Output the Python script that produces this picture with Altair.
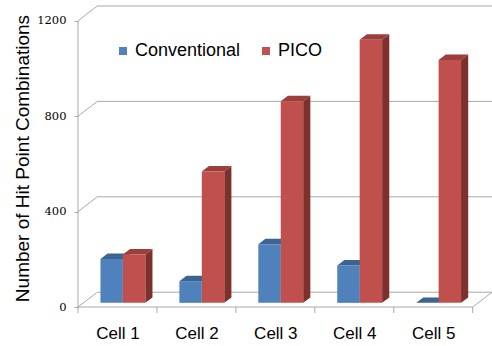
import altair as alt
import pandas as pd

# ---- data -------------------------------------------------------------
categories = ["Cell 1", "Cell 2", "Cell 3", "Cell 4", "Cell 5"]
series_names = ["Conventional", "PICO"]
conventional = [184, 91, 246, 157, 0]
pico = [203, 551, 845, 1103, 1018]
y_ticks = [0, 400, 800, 1200]

# ---- styling ----------------------------------------------------------
front_colors = ["#4F81BD", "#C0504D"]
top_colors = ["#3B6492", "#9A3F3C"]
side_colors = ["#2F507A", "#7E302D"]
grid_color = "#a8a8a8"
sans = "Liberation Sans"

# oblique "3-D" projection of the plot box
PX_PER_X = 78.8                 # pixels per category
DEPTH_X = 19.3 / PX_PER_X       # horizontal shift of the back wall (category units)
DEPTH_Y = 62.0                  # vertical shift of the back wall (value units)
BAR_W = 22.4 / PX_PER_X         # width of one bar
BAR_D0 = 0.28                   # depth of a bar's front face (fraction of box depth)
BAR_DD = 0.37                   # bar thickness (fraction of box depth)
TICK = 25.0                     # category tick length (value units)

n = len(categories)
x_min, x_max = -0.5, n - 0.5 + DEPTH_X
y_top = max(y_ticks) + DEPTH_Y

# ---- bar faces --------------------------------------------------------
fronts, tops, sides = [], [], []
for s, (name, vals) in enumerate(zip(series_names, [conventional, pico])):
    for i, v in enumerate(vals):
        c = i + BAR_D0 * DEPTH_X
        xl = c - BAR_W if s == 0 else c
        xr = xl + BAR_W
        base = BAR_D0 * DEPTH_Y
        top = base + v
        sx, sy = BAR_DD * DEPTH_X, BAR_DD * DEPTH_Y
        key = f"{s}-{i}"
        fronts.append(dict(series=name, x=xl, x2=xr, y=base, y2=top))
        for px, lo, hi in [(xl, top, top), (xl + sx, top, top + sy),
                           (xr, top, top + sy), (xr + sx, top + sy, top + sy)]:
            tops.append(dict(bar=key, fill=top_colors[s], x=px, y=hi, y2=lo))
        for px, lo, hi in [(xr, base, top), (xr + sx, base + sy, top + sy)]:
            sides.append(dict(bar=key, fill=side_colors[s], x=px, y=hi, y2=lo))

fronts_df = pd.DataFrame(fronts)
tops_df = pd.DataFrame(tops)
sides_df = pd.DataFrame(sides)

# ---- wall / floor lines -----------------------------------------------
lines = []
for v in y_ticks:
    lines.append(dict(x=x_min, y=v, x2=x_min + DEPTH_X, y2=v + DEPTH_Y))
    lines.append(dict(x=x_min + DEPTH_X, y=v + DEPTH_Y, x2=x_max, y2=v + DEPTH_Y))
lines.append(dict(x=x_min, y=0, x2=n - 0.5, y2=0))
lines.append(dict(x=n - 0.5, y=0, x2=x_max, y2=DEPTH_Y))
lines.append(dict(x=x_min, y=0, x2=x_min, y2=max(y_ticks)))
for k in range(n + 1):
    lines.append(dict(x=k - 0.5, y=0, x2=k - 0.5, y2=-TICK))
lines_df = pd.DataFrame(lines)

# ---- scales & axes ----------------------------------------------------
x_scale = alt.Scale(domain=[x_min, x_max], nice=False, zero=False)
y_scale = alt.Scale(domain=[0, y_top], nice=False, zero=False)

label_list = "[" + ",".join(f"'{c}'" for c in categories) + "]"
x_axis = alt.Axis(
    values=list(range(n)), labelExpr=f"{label_list}[datum.value]",
    title=None, grid=False, domain=False, ticks=False, tickSize=0,
    labelFont=sans, labelFontSize=17, labelColor="#000000",
    labelBaseline="alphabetic", labelPadding=31,
)
y_axis = alt.Axis(
    values=y_ticks, format="d", title="Number of Hit Point Combinations",
    grid=False, domain=False, ticks=True, tickSize=4, tickColor=grid_color,
    labelFont="DejaVu Serif", labelFontSize=11.5, labelColor="#000000",
    labelPadding=8,
    titleFont=sans, titleFontSize=19, titleFontWeight="normal",
    titleColor="#000000", titleAngle=270, titleAlign="center",
    titleBaseline="alphabetic", titleX=-50, titleY=152,
)


def xy():
    return dict(
        x=alt.X("x:Q", scale=x_scale, axis=x_axis),
        x2="x2:Q",
        y=alt.Y("y:Q", scale=y_scale, axis=y_axis),
        y2="y2:Q",
    )


grid = alt.Chart(lines_df).mark_rule(color=grid_color, strokeWidth=1).encode(**xy())

side_layer = alt.Chart(sides_df).mark_area(interpolate="linear").encode(
    x=alt.X("x:Q", scale=x_scale, axis=x_axis),
    y=alt.Y("y:Q", scale=y_scale, axis=y_axis, stack=None),
    y2="y2:Q",
    detail="bar:N",
    color=alt.Color("fill:N", scale=None),
)

top_layer = alt.Chart(tops_df).mark_area(interpolate="linear").encode(
    x=alt.X("x:Q", scale=x_scale, axis=x_axis),
    y=alt.Y("y:Q", scale=y_scale, axis=y_axis, stack=None),
    y2="y2:Q",
    detail="bar:N",
    color=alt.Color("fill:N", scale=None),
)

front_layer = alt.Chart(fronts_df).mark_rect().encode(
    **xy(),
    color=alt.Color(
        "series:N",
        scale=alt.Scale(domain=series_names, range=front_colors),
        legend=alt.Legend(
            title=None, orient="none", direction="horizontal", columns=2,
            legendX=36, legendY=36, symbolType="square", symbolSize=64,
            symbolStrokeWidth=0, labelFont=sans, labelFontSize=18,
            labelColor="#000000", labelOffset=3, columnPadding=16,
        ),
    ),
)

chart = (
    alt.layer(grid, side_layer, top_layer, front_layer)
    .resolve_scale(color="independent")
    .properties(
        width=414, height=301,
        autosize=alt.AutoSizeParams(type="none"),
        padding={"left": 78, "top": 6, "right": 0, "bottom": 39},
        background="#ffffff",
    )
    .configure_view(stroke=None)
)

chart.save("out.html", embed_options={"renderer": "svg", "actions": False})
